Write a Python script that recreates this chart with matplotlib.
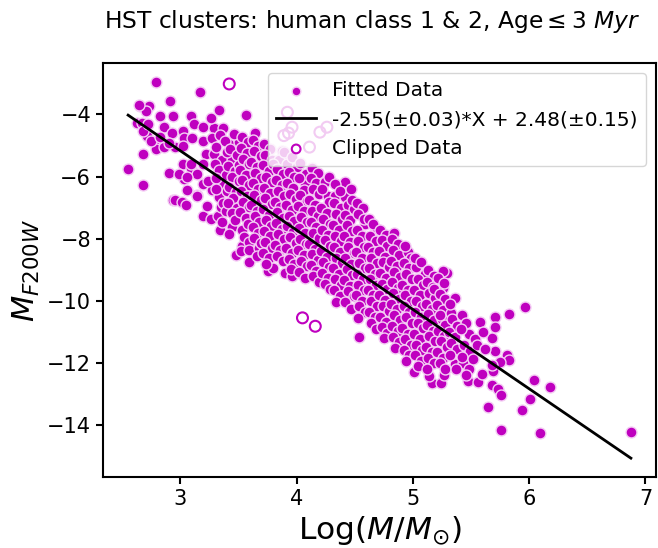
import numpy as np
import matplotlib
matplotlib.use('Agg')
import matplotlib.pyplot as plt

# fit quoted in the legend
slope, slope_err = -2.55, 0.03
icept, icept_err = 2.48, 0.15

# fitted clusters (log mass, M_F200W)
fitted = [
    # sparse upper-left
    (2.55, -5.75), (2.63, -4.27), (2.67, -4.27), (2.65, -3.72), (2.73, -3.72), (2.70, -3.89),
    (2.68, -6.26), (2.675, -5.28), (2.71, -4.70), (2.775, -4.88), (2.79, -5.10), (2.79, -2.95),
    (2.855, -5.04), (2.82, -4.04), (2.855, -4.40), (2.91, -3.57), (2.94, -4.04), (2.93, -4.61),
    (2.95, -5.04), (2.90, -5.88), (2.94, -6.74), (3.09, -4.04), (3.165, -3.29), (3.02, -4.54),
    (3.12, -4.32), (3.19, -4.40), (3.29, -4.43), (3.37, -4.45), (3.26, -4.13), (3.33, -3.86),
    (3.56, -4.02), (3.64, -4.61), (3.03, -4.77), (3.02, -5.02), (3.10, -4.77), (3.19, -4.85),
    (3.27, -4.75), (3.34, -4.67), (3.42, -4.94), (3.50, -4.88), (3.02, -5.60), (3.09, -5.71),
    (3.145, -5.90), (3.03, -6.06), (2.99, -5.90), (3.22, -5.26), (3.29, -5.26), (3.36, -5.47),
    (3.44, -5.47), (3.19, -5.58), (3.30, -5.58), (3.06, -6.42), (3.145, -6.60), (3.19, -6.23),
    (3.27, -6.44), (3.36, -6.23), (2.95, -6.75), (3.01, -6.83), (3.05, -6.91), (3.19, -7.25),
    (3.26, -7.35), (3.32, -7.25), (3.34, -7.73), (3.44, -7.62), (3.53, -7.73), (3.06, -6.02),
    (3.24, -6.13), (3.23, -6.94), (3.35, -6.99), (3.33, -6.67), (3.14, -6.61), (3.09, -5.59),
    (2.64, -3.69), (2.68, -4.52), (2.75, -4.84), (2.72, -4.30), (2.905, -4.92), (2.82, -4.73),
    # x ~ 3.35
    (3.38, -4.85), (3.31, -5.05), (3.40, -5.20), (3.33, -5.80), (3.39, -5.95), (3.31, -6.05),
    (3.40, -6.45), (3.37, -6.85), (3.39, -7.10), (3.36, -7.45), (3.31, -6.40),
    # x ~ 3.45
    (3.46, -4.62), (3.43, -5.12), (3.49, -5.30), (3.41, -5.65), (3.47, -5.82), (3.44, -6.00),
    (3.50, -6.15), (3.42, -6.32), (3.48, -6.50), (3.45, -6.68), (3.41, -6.86), (3.49, -7.00),
    (3.44, -7.18), (3.47, -7.38), (3.42, -7.85), (3.50, -5.62),
    # x ~ 3.55
    (3.48, -8.53), (3.53, -8.23), (3.53, -4.72), (3.58, -4.90), (3.52, -5.08), (3.57, -5.25),
    (3.54, -5.43), (3.59, -5.60), (3.51, -5.78), (3.56, -5.95), (3.53, -6.12), (3.59, -6.28),
    (3.52, -6.45), (3.57, -6.62), (3.54, -6.80), (3.59, -6.97), (3.51, -7.15), (3.56, -7.33),
    (3.58, -7.52), (3.55, -7.95), (3.59, -8.10), (3.52, -8.40),
    # x ~ 3.65
    (3.59, -8.74), (3.59, -8.36), (3.675, -8.30), (3.62, -4.82), (3.67, -5.00), (3.63, -5.18),
    (3.69, -5.35), (3.61, -5.52), (3.66, -5.70), (3.64, -5.88), (3.69, -6.05), (3.62, -6.22),
    (3.67, -6.40), (3.63, -6.58), (3.69, -6.75), (3.61, -6.92), (3.66, -7.10), (3.64, -7.28),
    (3.68, -7.45), (3.62, -7.62), (3.67, -7.80), (3.63, -7.98), (3.69, -8.12), (3.66, -8.55),
    # x ~ 3.75
    (3.75, -9.03), (3.80, -8.93), (3.72, -4.95), (3.77, -5.12), (3.73, -5.30), (3.79, -5.47),
    (3.71, -5.64), (3.76, -5.82), (3.74, -6.00), (3.79, -6.17), (3.72, -6.35), (3.77, -6.52),
    (3.73, -6.70), (3.79, -6.88), (3.71, -7.05), (3.76, -7.22), (3.74, -7.40), (3.78, -7.58),
    (3.72, -7.75), (3.77, -7.92), (3.73, -8.10), (3.79, -8.28), (3.71, -8.45), (3.76, -8.62),
    (3.74, -8.80),
    # x ~ 3.85 (top part sits under the legend)
    (3.87, -5.16), (3.90, -5.43), (3.85, -5.48), (3.80, -5.59), (3.92, -5.59), (4.00, -5.70),
    (3.89, -5.22), (3.96, -5.38), (3.83, -5.75), (3.88, -5.92), (3.82, -6.10), (3.87, -6.27),
    (3.84, -6.45), (3.89, -6.62), (3.81, -6.80), (3.86, -6.97), (3.83, -7.15), (3.88, -7.32),
    (3.82, -7.50), (3.87, -7.67), (3.84, -7.85), (3.89, -8.02), (3.81, -8.20), (3.86, -8.37),
    (3.83, -8.55), (3.88, -8.72), (3.90, -9.09),
    # x ~ 3.95
    (3.96, -9.19), (4.03, -9.09), (3.93, -5.85), (3.98, -6.02), (3.92, -6.20), (3.97, -6.37),
    (3.94, -6.55), (3.99, -6.72), (3.91, -6.90), (3.96, -7.07), (3.93, -7.25), (3.98, -7.42),
    (3.92, -7.60), (3.97, -7.77), (3.94, -7.95), (3.99, -8.12), (3.91, -8.30), (3.96, -8.47),
    (3.93, -8.65), (3.98, -8.82), (3.95, -8.98),
    # x ~ 4.05
    (4.07, -6.24), (4.03, -5.55), (4.08, -5.90), (4.02, -6.05), (4.06, -6.42), (4.03, -6.60),
    (4.09, -6.77), (4.01, -6.95), (4.06, -7.12), (4.04, -7.30), (4.09, -7.47), (4.02, -7.65),
    (4.07, -7.82), (4.03, -8.00), (4.08, -8.17), (4.01, -8.35), (4.06, -8.52), (4.04, -8.70),
    (4.09, -8.87), (4.02, -9.05), (4.07, -9.25),
    # x ~ 4.15
    (4.13, -5.72), (4.18, -5.88), (4.12, -6.05), (4.17, -6.22), (4.14, -6.40), (4.19, -6.57),
    (4.11, -6.75), (4.16, -6.92), (4.13, -7.10), (4.18, -7.27), (4.12, -7.45), (4.17, -7.62),
    (4.14, -7.80), (4.19, -7.97), (4.11, -8.15), (4.16, -8.32), (4.13, -8.50), (4.18, -8.67),
    (4.12, -8.85), (4.17, -9.02), (4.14, -9.20), (4.19, -9.40),
    # x ~ 4.25
    (4.24, -6.18), (4.27, -6.61), (4.33, -6.61), (4.22, -6.40), (4.28, -6.82), (4.21, -7.00),
    (4.26, -7.17), (4.23, -7.35), (4.29, -7.52), (4.22, -7.70), (4.27, -7.87), (4.24, -8.05),
    (4.29, -8.22), (4.21, -8.40), (4.26, -8.57), (4.23, -8.75), (4.28, -8.92), (4.22, -9.10),
    (4.27, -9.27), (4.24, -9.45), (4.29, -9.62), (4.28, -6.02),
    # x ~ 4.35
    (4.42, -6.18), (4.42, -6.67), (4.33, -6.25), (4.37, -6.45), (4.32, -6.85), (4.38, -7.02),
    (4.34, -7.20), (4.39, -7.37), (4.31, -7.55), (4.36, -7.72), (4.33, -7.90), (4.38, -8.07),
    (4.32, -8.25), (4.37, -8.42), (4.34, -8.60), (4.39, -8.77), (4.31, -8.95), (4.36, -9.12),
    (4.33, -9.30), (4.38, -9.47), (4.32, -9.65), (4.37, -9.85), (4.34, -10.02),
    # x ~ 4.45
    (4.47, -6.40), (4.44, -6.90), (4.49, -7.05), (4.42, -7.22), (4.46, -7.40), (4.43, -7.57),
    (4.48, -7.75), (4.41, -7.92), (4.46, -8.10), (4.44, -8.27), (4.49, -8.45), (4.42, -8.62),
    (4.47, -8.80), (4.43, -8.97), (4.48, -9.15), (4.41, -9.32), (4.46, -9.50), (4.44, -9.67),
    (4.49, -9.85), (4.42, -10.02), (4.47, -10.25), (4.48, -6.75),
    # x ~ 4.55
    (4.59, -7.51), (4.54, -11.16), (4.52, -6.85), (4.57, -7.02), (4.53, -7.20), (4.58, -7.37),
    (4.52, -7.72), (4.56, -7.90), (4.53, -8.07), (4.58, -8.25), (4.51, -8.42), (4.56, -8.60),
    (4.54, -8.77), (4.59, -8.95), (4.52, -9.12), (4.57, -9.30), (4.53, -9.47), (4.58, -9.65),
    (4.51, -9.82), (4.56, -10.00), (4.54, -10.17), (4.59, -10.35), (4.53, -10.55),
    # x ~ 4.65
    (4.68, -7.72), (4.69, -7.69), (4.62, -7.35), (4.66, -7.52), (4.63, -7.90), (4.68, -8.07),
    (4.61, -8.25), (4.66, -8.42), (4.64, -8.60), (4.69, -8.77), (4.62, -8.95), (4.67, -9.12),
    (4.63, -9.30), (4.68, -9.47), (4.61, -9.65), (4.66, -9.82), (4.64, -10.00), (4.69, -10.17),
    (4.62, -10.35), (4.67, -10.52), (4.64, -10.72), (4.68, -10.90),
    # x ~ 4.75
    (4.72, -7.70), (4.77, -7.88), (4.73, -8.05), (4.78, -8.22), (4.71, -8.40), (4.76, -8.57),
    (4.74, -8.75), (4.79, -8.92), (4.72, -9.10), (4.77, -9.27), (4.73, -9.45), (4.78, -9.62),
    (4.71, -9.80), (4.76, -9.97), (4.74, -10.15), (4.79, -10.32), (4.72, -10.50), (4.77, -10.67),
    (4.73, -10.85), (4.78, -11.02), (4.75, -11.20),
    # x ~ 4.85
    (4.84, -7.82), (4.82, -8.00), (4.87, -8.17), (4.83, -8.35), (4.88, -8.52), (4.81, -8.70),
    (4.86, -8.87), (4.84, -9.05), (4.89, -9.22), (4.82, -9.40), (4.87, -9.57), (4.83, -9.75),
    (4.88, -9.92), (4.81, -10.10), (4.86, -10.27), (4.84, -10.45), (4.89, -10.62), (4.82, -10.80),
    (4.87, -10.97), (4.83, -11.15), (4.88, -11.32), (4.85, -11.52),
    # x ~ 4.95
    (4.96, -8.41), (5.01, -12.28), (4.93, -8.22), (4.98, -8.60), (4.92, -8.77), (4.97, -8.95),
    (4.94, -9.12), (4.99, -9.30), (4.91, -9.47), (4.96, -9.65), (4.93, -9.82), (4.98, -10.00),
    (4.92, -10.17), (4.97, -10.35), (4.94, -10.52), (4.99, -10.70), (4.91, -10.87), (4.96, -11.05),
    (4.93, -11.22), (4.98, -11.40), (4.92, -11.57), (4.97, -11.75), (4.94, -11.92),
    # x ~ 5.05
    (5.03, -8.90), (5.10, -9.14), (5.02, -8.62), (5.07, -8.75), (5.04, -9.30), (5.09, -9.47),
    (5.01, -9.65), (5.06, -9.82), (5.03, -10.00), (5.08, -10.17), (5.02, -10.35), (5.07, -10.52),
    (5.04, -10.70), (5.09, -10.87), (5.01, -11.05), (5.06, -11.22), (5.03, -11.40), (5.08, -11.57),
    (5.02, -11.75), (5.07, -11.92), (5.04, -12.10),
    # x ~ 5.15
    (5.16, -12.63), (5.14, -12.42), (5.13, -9.00), (5.18, -9.20), (5.12, -9.38), (5.17, -9.55),
    (5.14, -9.73), (5.19, -9.90), (5.11, -10.08), (5.16, -10.25), (5.13, -10.43), (5.18, -10.60),
    (5.12, -10.78), (5.17, -10.95), (5.14, -11.13), (5.19, -11.30), (5.11, -11.48), (5.16, -11.65),
    (5.13, -11.83), (5.18, -12.00), (5.12, -12.18),
    # x ~ 5.25
    (5.29, -9.09), (5.26, -9.03), (5.26, -9.59), (5.18, -9.62), (5.25, -10.59), (5.24, -12.63),
    (5.27, -12.37), (5.22, -9.25), (5.27, -9.42), (5.23, -9.78), (5.28, -9.95), (5.21, -10.12),
    (5.26, -10.30), (5.23, -10.45), (5.28, -10.78), (5.22, -10.95), (5.27, -11.12), (5.24, -11.30),
    (5.29, -11.47), (5.21, -11.65), (5.26, -11.82), (5.23, -12.00), (5.28, -12.17),
    # x ~ 5.35 - 5.45
    (5.36, -9.89), (5.33, -10.37), (5.34, -10.59), (5.36, -12.02), (5.43, -11.99), (5.32, -10.10),
    (5.38, -10.80), (5.31, -10.98), (5.36, -11.15), (5.33, -11.35), (5.38, -11.55), (5.32, -11.75),
    (5.37, -12.20), (5.48, -11.05), (5.53, -11.22), (5.48, -12.20), (5.47, -12.58), (5.455, -12.37),
    (5.42, -10.45), (5.46, -10.70), (5.41, -10.90), (5.44, -11.40), (5.49, -11.60), (5.42, -11.80),
    # sparse tail
    (5.58, -10.68), (5.56, -12.61), (5.59, -12.33), (5.69, -12.26), (5.68, -12.69), (5.73, -12.83),
    (5.755, -13.01), (5.65, -13.41), (5.71, -11.61), (5.68, -11.18), (5.71, -10.51), (5.71, -10.82),
    (5.83, -10.43), (5.96, -10.19), (5.81, -11.72), (5.83, -11.88), (5.75, -11.95), (5.68, -12.06),
    (6.04, -12.55), (6.18, -12.76), (6.01, -13.15), (5.94, -13.50), (5.755, -14.14), (6.09, -14.25),
    (6.875, -14.22), (5.55, -11.40), (5.60, -11.00), (5.52, -11.85), (5.62, -11.55),
]

# sigma-clipped clusters (open circles)
clipped_x = [3.42, 3.92, 3.96, 3.89, 3.93, 4.20, 4.26, 4.11, 4.05, 4.16]
clipped_y = [-3.02, -3.93, -4.41, -4.68, -4.60, -4.57, -4.41, -5.05, -10.54, -10.81]

fit_x = np.array([p[0] for p in fitted])
fit_y = np.array([p[1] for p in fitted])

fig = plt.figure(figsize=(6.58, 5.48), dpi=100)
ax = fig.add_axes([0.1565, 0.1296, 0.8405, 0.7555])

ax.scatter(fit_x, fit_y, s=62, c='m', edgecolors='#f4cdf4', linewidths=1, label='Fitted Data', zorder=2)

xx = np.sort(fit_x)
ax.plot(xx, slope * xx + icept, 'k-', lw=2, zorder=3,
        label='%.2f(\u00b1%.2f)*X + %.2f(\u00b1%.2f)' % (slope, slope_err, icept, icept_err))

ax.scatter(clipped_x, clipped_y, s=62, facecolors='none', edgecolors='m', linewidths=1.5,
           label='Clipped Data', zorder=2)

ax.set_xticks([3, 4, 5, 6, 7])
ax.set_yticks([-4, -6, -8, -10, -12, -14])
ax.tick_params(labelsize=15, width=1.5, length=5)
for sp in ax.spines.values():
    sp.set_linewidth(1.5)

ax.set_xlabel(r'Log($M/M_{\odot}$)', fontsize=22.5)
ax.set_ylabel(r'$M_{F200W}$', fontsize=22)
ax.set_title(r'HST clusters: human class 1 & 2, Age$\leq$3 $Myr$', fontsize=16.8, pad=25, x=0.487)

ax.legend(loc='upper right', fontsize=14.5, markerscale=0.8)

fig.savefig('out.png', dpi=100)
